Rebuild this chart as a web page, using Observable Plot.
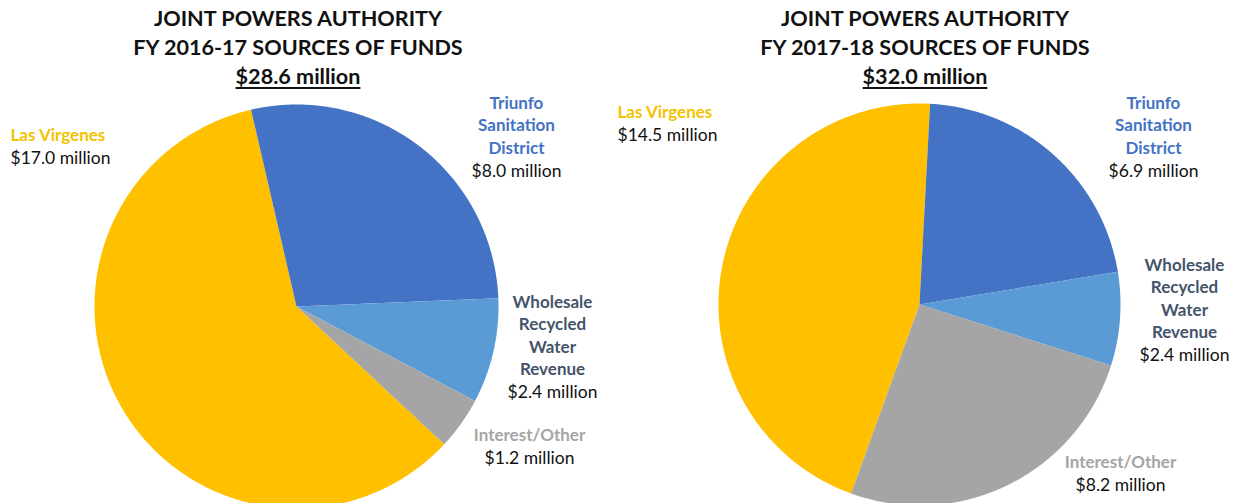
<!DOCTYPE html>
<html>
<head>
<meta charset="utf-8">
<script src="https://cdn.jsdelivr.net/npm/d3@7"></script>
<script src="https://cdn.jsdelivr.net/npm/@observablehq/plot@0.6"></script>
<style>
  html, body { margin: 0; padding: 0; background: #fff; overflow: hidden; }
  #wrap { position: relative; width: 1237px; height: 503px; overflow: hidden; font-family: Lato, "Open Sans", sans-serif; }
  .title { position: absolute; top: 4px; width: 440px; text-align: center; font-weight: 700; font-size: 21.6px; line-height: 29px; color: #111; }
  .title .amt { text-decoration: underline; text-decoration-thickness: 2px; text-underline-offset: 3px; }
  #chart { position: absolute; left: 0; top: 0; }
</style>
</head>
<body>
<div id="wrap">
  <div id="chart"></div>
</div>
<script>
// ---- data ----
const categories = ["Las Virgenes", "Triunfo\nSanitation\nDistrict", "Wholesale\nRecycled\nWater\nRevenue", "Interest/Other"];
const fy1617 = [17.0, 8.0, 2.4, 1.2];
const fy1718 = [14.5, 6.9, 2.4, 8.2];
const titleLines = ["JOINT POWERS AUTHORITY", "JOINT POWERS AUTHORITY"];
const fyLabels = ["FY 2016-17 SOURCES OF FUNDS", "FY 2017-18 SOURCES OF FUNDS"];
const totals = ["$28.6 million", "$32.0 million"];

// ---- styles / layout ----
const sliceColors = ["#FFC000", "#4472C4", "#5B9BD5", "#A5A5A5"];
const labelColors = ["#F2C300", "#4472C4", "#44546A", "#A5A5A5"];
const pies = [
  {values: fy1617, cx: 296, cy: 306, r: 202, start: -227.0, titleX: 298},
  {values: fy1718, cx: 919, cy: 304, r: 201, start: -160.1, titleX: 925}
];
// label anchors per pie, per category: x, y of first line, text-anchor
const labelLayout = [
  [{x: 10, y: 135, a: "start"}, {x: 516, y: 103, a: "middle"}, {x: 552, y: 302, a: "middle"}, {x: 529, y: 435, a: "middle"}],
  [{x: 617, y: 112, a: "start"}, {x: 1153, y: 103, a: "middle"}, {x: 1184, y: 265, a: "middle"}, {x: 1120, y: 462, a: "middle"}]
];
const lineStep = 22.5;

// ---- titles ----
const wrap = document.getElementById("wrap");
pies.forEach((p, i) => {
  const t = document.createElement("div");
  t.className = "title";
  t.style.left = (p.titleX - 220) + "px";
  t.innerHTML = `<div>${titleLines[i]}</div><div>${fyLabels[i]}</div><div><span class="amt">${totals[i]}</span></div>`;
  wrap.appendChild(t);
});

// ---- slices ----
const slices = [];
pies.forEach((p, pi) => {
  const s0 = p.start * Math.PI / 180;
  const arcs = d3.pie().sort(null).startAngle(s0).endAngle(s0 + 2 * Math.PI)(p.values);
  arcs.forEach((a, ci) => {
    const key = pi + "-" + ci;
    const cat = categories[ci];
    slices.push({key, cat, x: p.cx, y: p.cy});
    const n = Math.max(2, Math.ceil((a.endAngle - a.startAngle) / 0.005));
    for (let k = 0; k <= n; k++) {
      const t = a.startAngle + (a.endAngle - a.startAngle) * k / n;
      slices.push({key, cat, x: p.cx + p.r * Math.sin(t), y: p.cy - p.r * Math.cos(t)});
    }
  });
});

// ---- labels ----
const nameLines = [], valueLines = [];
pies.forEach((p, pi) => {
  categories.forEach((c, ci) => {
    const L = labelLayout[pi][ci];
    const parts = c.split("\n");
    parts.forEach((s, k) => nameLines.push({text: s, x: L.x, y: L.y + k * lineStep, a: L.a, color: labelColors[ci]}));
    valueLines.push({text: `$${p.values[ci].toFixed(1)} million`, x: L.x, y: L.y + parts.length * lineStep, a: L.a});
  });
});

const byAnchor = (arr, a) => arr.filter(d => d.a === a);

const chart = Plot.plot({
  width: 1237,
  height: 503,
  margin: 0,
  x: {domain: [0, 1237], range: [0, 1237], axis: null},
  y: {domain: [0, 503], range: [0, 503], axis: null},
  color: {domain: categories, range: sliceColors},
  style: {fontFamily: "Lato, 'Open Sans', sans-serif", background: "transparent"},
  marks: [
    Plot.line(slices, {x: "x", y: "y", z: "key", fill: "cat", stroke: "none", clip: "frame"}),
    ...["start", "middle"].map(a => Plot.text(byAnchor(nameLines, a), {x: "x", y: "y", text: "text", fill: d => d.color, textAnchor: a, fontSize: 17, fontWeight: 700, lineAnchor: "middle"})),
    ...["start", "middle"].map(a => Plot.text(byAnchor(valueLines, a), {x: "x", y: "y", text: "text", fill: "#111", textAnchor: a, fontSize: 17.5, fontWeight: 400, lineAnchor: "middle"}))
  ]
});
document.getElementById("chart").appendChild(chart);
</script>
</body>
</html>
